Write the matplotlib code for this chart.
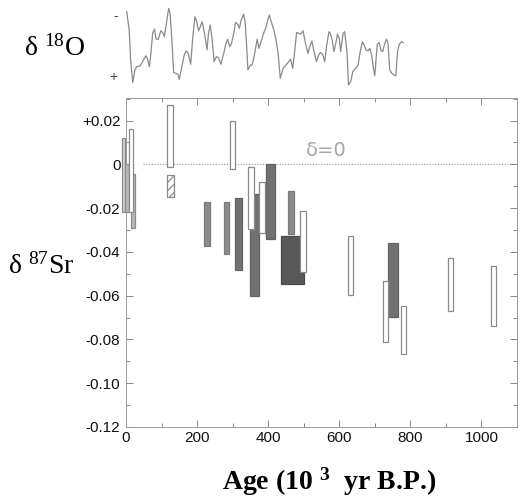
import matplotlib
matplotlib.use("Agg")
import matplotlib.pyplot as plt
from matplotlib.ticker import MultipleLocator, FixedLocator
import numpy as np

plt.rcParams['font.family'] = ['Liberation Sans', 'DejaVu Sans']
plt.rcParams['mathtext.fontset'] = 'custom'
plt.rcParams['mathtext.rm'] = 'Liberation Serif'
plt.rcParams['mathtext.it'] = 'Liberation Serif:italic'
plt.rcParams['mathtext.bf'] = 'Liberation Serif:bold'
plt.rcParams['hatch.color'] = '#8a8a8a'
plt.rcParams['hatch.linewidth'] = 0.9

# ---------------- data ----------------
# delta-18O record (ka, per mil; larger = more positive = lower on plot)
o18_age = [2, 9, 13, 19, 25, 30, 40, 49, 56, 60,
           66, 70, 75, 80, 85, 91, 98, 103, 108, 115,
           120, 124, 129, 134, 140, 146, 150, 157, 164, 169,
           175, 182, 188, 194, 199, 204, 209, 214, 221, 228,
           232, 237, 242, 248, 254, 260, 267, 275, 280, 286,
           292, 297, 305, 308, 314, 319, 324, 331, 335, 339,
           343, 350, 355, 362, 369, 374, 380, 387, 393, 399,
           403, 410, 416, 422, 428, 434, 442, 450, 458, 463,
           469, 475, 480, 486, 491, 498, 505, 512, 517, 523,
           528, 536, 542, 547, 553, 559, 564, 571, 575, 580,
           585, 591, 595, 600, 604, 607, 611, 615, 618, 622,
           626, 632, 638, 646, 653, 658, 665, 670, 675, 681,
           686, 691, 696, 700, 704, 707, 712, 717, 722, 728,
           733, 737, 742, 748, 754, 759, 764, 769, 775, 780]
o18_val = [3.28, 3.72, 4.44, 4.98, 4.68, 4.60, 4.58, 4.44, 4.34, 4.40,
           4.60, 4.28, 3.80, 3.70, 3.94, 3.94, 3.74, 3.78, 3.88, 3.48,
           3.20, 3.32, 3.96, 4.74, 4.76, 4.78, 4.90, 4.60, 4.32, 4.22,
           4.28, 4.54, 3.88, 3.40, 3.52, 3.74, 3.64, 3.52, 3.80, 4.20,
           3.80, 3.60, 3.92, 4.48, 4.36, 4.38, 4.54, 4.28, 4.08, 3.94,
           4.12, 4.04, 3.72, 3.54, 3.58, 3.68, 3.48, 3.34, 3.52, 4.04,
           4.68, 4.56, 4.56, 4.28, 3.94, 4.16, 4.00, 3.80, 3.68, 3.48,
           3.36, 3.56, 3.72, 3.96, 4.28, 4.88, 4.64, 4.56, 4.48, 4.42,
           4.64, 4.20, 3.78, 3.80, 3.82, 3.74, 4.04, 4.28, 4.12, 3.98,
           4.20, 4.48, 4.32, 4.26, 4.30, 4.48, 4.12, 3.76, 3.80, 3.96,
           4.24, 4.00, 3.82, 3.92, 4.24, 4.04, 3.80, 3.76, 3.96, 4.28,
           5.04, 4.96, 4.72, 4.64, 4.56, 4.28, 4.00, 4.08, 4.20, 4.22,
           4.16, 4.32, 4.64, 4.82, 4.36, 4.06, 4.02, 4.20, 4.24, 4.04,
           3.94, 4.04, 4.68, 4.76, 4.80, 4.82, 4.24, 4.06, 4.00, 4.02]

# delta-87Sr boxes: age range (ka) and delta range
bar_age_lo = [-12, -3, 9, 14, 115, 116.5, 293, 220, 277, 305.6, 350, 344,
              374, 395, 455, 436, 489, 624, 724, 738, 774, 905, 1027]
bar_age_hi = [-3, 9, 20.5, 24.5, 131, 135, 308, 237, 290.5, 326, 373, 359.4,
              390, 420, 472, 502, 506, 639, 737, 766, 789, 920, 1041]
bar_sr_hi = [0.012, 0.000, 0.016, -0.0045, 0.0273, -0.005, 0.020, -0.0171,
             -0.017, -0.0152, -0.0136, -0.001, -0.0079, 0.0003, -0.0121,
             -0.0329, -0.0212, -0.0326, -0.0533, -0.036, -0.0647, -0.0429,
             -0.0465]
bar_sr_lo = [-0.022, -0.022, -0.022, -0.029, -0.001, -0.0147, -0.002, -0.0371,
             -0.041, -0.0485, -0.060, -0.0295, -0.0315, -0.034, -0.032,
             -0.0545, -0.0492, -0.0599, -0.081, -0.0699, -0.0868, -0.067,
             -0.0738]
bar_kind = ['pale', 'light', 'open', 'light', 'open', 'hatch', 'open', 'grey',
            'grey', 'dark', 'dark', 'open', 'open', 'dark', 'grey', 'darkest',
            'open', 'open', 'open', 'dark', 'open', 'open', 'open']

y_ticks = [0.02, 0.0, -0.02, -0.04, -0.06, -0.08, -0.10, -0.12]
y_tick_labels = ['+0.02', '0', '-0.02', '-0.04', '-0.06', '-0.08', '-0.10', '-0.12']
x_ticks = [0, 200, 400, 600, 800, 1000]

styles = {
    'open':    dict(fc='white', ec='#8a8a8a', z=4),
    'pale':    dict(fc='#d4d4d4', ec='#8a8a8a', z=3),
    'light':   dict(fc='#b8b8b8', ec='#8a8a8a', z=3),
    'grey':    dict(fc='#8c8c8c', ec='#7a7a7a', z=2),
    'dark':    dict(fc='#717171', ec='#626262', z=2),
    'darkest': dict(fc='#585858', ec='#4a4a4a', z=2),
    'hatch':   dict(fc='white', ec='#8a8a8a', z=3),
}

W, H = 523, 499
fig = plt.figure(figsize=(W / 100, H / 100), dpi=100)

# ---------------- main panel ----------------
ax = fig.add_axes([126 / W, 1 - 427 / H, 391 / W, 329 / H])
ax.set_xlim(0, 1100)
ax.set_ylim(-0.12, 0.0303)

for lo, hi, shi, slo, kind in zip(bar_age_lo, bar_age_hi, bar_sr_hi, bar_sr_lo, bar_kind):
    st = styles[kind]
    ax.bar(lo, shi - slo, width=hi - lo, bottom=slo, align='edge',
           facecolor=st['fc'], edgecolor=st['ec'], linewidth=0.9,
           hatch='////' if kind == 'hatch' else None,
           zorder=st['z'], clip_on=False)

ax.plot([47, 1100], [0, 0], linestyle=(0, (1, 1.5)), color='#9a9a9a',
        linewidth=0.8, zorder=1)
ax.text(564, 0.0062, 'δ=0', color='#a6a6a6', fontsize=14, ha='center',
        va='center', family=['DejaVu Sans'], fontweight='normal')

ax.yaxis.set_major_locator(FixedLocator(y_ticks))
ax.set_yticklabels(y_tick_labels)
ax.yaxis.set_minor_locator(MultipleLocator(0.01))
ax.xaxis.set_major_locator(FixedLocator(x_ticks))
ax.set_xticklabels([str(v) for v in x_ticks])
ax.xaxis.set_minor_locator(MultipleLocator(100))
ax.tick_params(which='both', direction='in', top=True, right=True,
               color='#888888', width=0.7)
ax.tick_params(which='major', length=5, labelsize=11, pad=3)
ax.tick_params(which='minor', length=3)
ax.tick_params(axis='y', which='major', pad=4)
for lab in ax.get_xticklabels() + ax.get_yticklabels():
    lab.set_fontweight('medium')
    lab.set_color('#111111')
for s in ax.spines.values():
    s.set_color('#9a9a9a')
    s.set_linewidth(0.7)

# ---------------- delta-18O panel ----------------
ax2 = fig.add_axes([126 / W, 1 - 95 / H, 391 / W, 95 / H])
ax2.set_xlim(0, 1100)
ax2.set_ylim(5.28, 3.0)
ax2.plot(o18_age, o18_val, color='#8a8a8a', linewidth=0.9)
for s in ax2.spines.values():
    s.set_visible(False)
ax2.set_xticks([])
ax2.set_yticks([3.36, 4.80])
ax2.set_yticklabels(['-', '+'])
ax2.tick_params(axis='y', length=0, pad=6, labelsize=10, labelcolor='#444444')
ax2.patch.set_alpha(0)

# ---------------- labels ----------------
fig.text(24 / W, 1 - 48 / H, 'δ $^{18}$O', fontsize=20, family='Liberation Serif',
         ha='left', va='center')
fig.text(8 / W, 1 - 266 / H, 'δ $^{87}$Sr', fontsize=20, family='Liberation Serif',
         ha='left', va='center')
fig.text(329 / W, 1 - 482 / H, r'Age (10 $\mathbf{^{3}}$  yr B.P.)', fontsize=20,
         family='Liberation Serif', fontweight='bold', ha='center', va='center')

fig.savefig('out.png', dpi=100)
